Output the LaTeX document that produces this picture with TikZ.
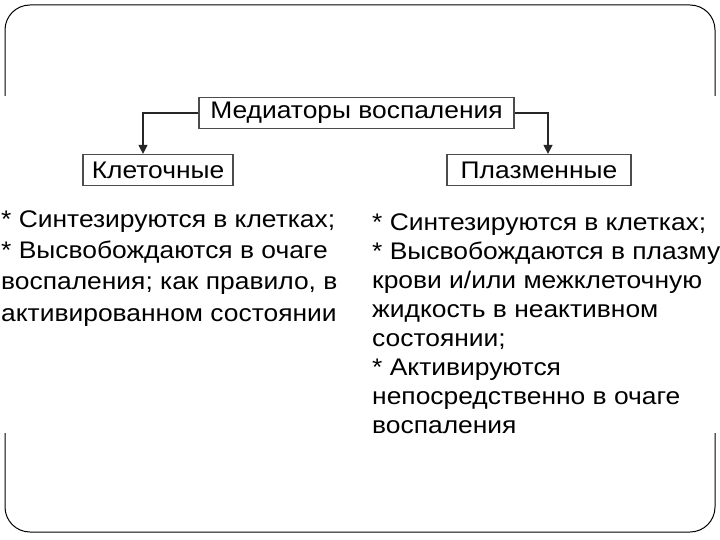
\documentclass[tikz,border=0pt]{standalone}
\usepackage{fontspec}
\setmainfont[FakeStretch=1.1]{Liberation Sans}
\usetikzlibrary{arrows.meta}
\begin{document}
\begin{tikzpicture}[x=1pt,y=-1pt,
    box/.style={draw=black!70,line width=1.2pt,minimum height=31pt,inner sep=0pt,font=\fontsize{24}{28}\selectfont},
    arr/.style={draw=black!85,line width=1.3pt,-{Triangle[width=9pt,length=9pt]}},
    txt/.style={anchor=base west,align=left,inner sep=0pt}]
  \useasboundingbox (0,0) rectangle (720,540);
  \draw[line width=1pt,rounded corners=25pt] (5,96) -- (5,5) -- (715,5) -- (715,96);
  \draw[line width=1pt,rounded corners=25pt] (5,433) -- (5,532) -- (715,532) -- (715,433);
  \node[box,minimum width=315pt] (title) at (356.5,113) {Медиаторы воспаления};
  \node[box,minimum width=150pt] (cell) at (158,170) {Клеточные};
  \node[box,minimum width=184pt] (plasma) at (539,170) {Плазменные};
  \draw[arr] (title.west) -| ([xshift=-15pt]cell.north);
  \draw[arr] (title.east) -| ([xshift=9pt]plasma.north);
  \node[txt,font=\fontsize{24}{31.3}\selectfont] (celltext) at (1,321)
    {* Синтезируются в клетках;\\
     * Высвобождаются в очаге\\
     воспаления; как правило, в\\
     активированном состоянии};
  \node[txt,font=\fontsize{24}{29}\selectfont] (plasmatext) at (372,433)
    {* Синтезируются в клетках;\\
     * Высвобождаются в плазму\\
     крови и/или межклеточную\\
     жидкость в неактивном\\
     состоянии;\\
     * Активируются\\
     непосредственно в очаге\\
     воспаления};
\end{tikzpicture}
\end{document}
